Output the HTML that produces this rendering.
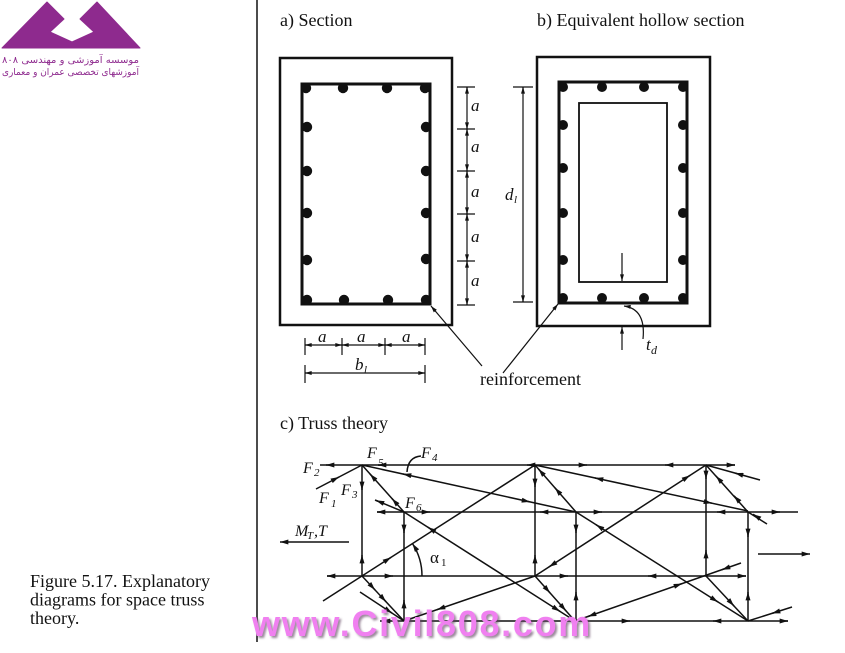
<!DOCTYPE html>
<html><head><meta charset="utf-8">
<style>
html,body{margin:0;padding:0;background:#fff;}
body{width:845px;height:653px;overflow:hidden;position:relative;}
svg{position:absolute;left:0;top:0;}
.wm{position:absolute;left:252px;top:606px;font-family:"Liberation Sans",sans-serif;font-weight:bold;font-size:36px;letter-spacing:1.7px;color:#f080f0;text-shadow:2px 2px 2px rgba(90,60,90,0.6);white-space:nowrap;line-height:36px;}
</style></head><body>
<svg width="845" height="653" viewBox="0 0 845 653" xmlns="http://www.w3.org/2000/svg">
<defs>
<marker id="ah" viewBox="0 0 10 6" refX="10" refY="3" markerWidth="9" markerHeight="5" orient="auto" markerUnits="userSpaceOnUse"><path d="M0,0L10,3L0,6z" fill="#111"/></marker>
<marker id="as" viewBox="0 0 10 6" refX="10" refY="3" markerWidth="7" markerHeight="4" orient="auto" markerUnits="userSpaceOnUse"><path d="M0,0L10,3L0,6z" fill="#111"/></marker>
</defs>

<!-- logo -->
<polygon points="2,48 47,2 64,19 50,32 72,42 94,32 80,19 97,2 140,48" fill="#8e2a8e" stroke="#8e2a8e" stroke-width="1" stroke-linejoin="round"/>
<text x="139" y="63" font-family="DejaVu Sans, sans-serif" font-size="9.5" fill="#8e2a8e" text-anchor="end" textLength="137" lengthAdjust="spacingAndGlyphs">موسسه آموزشی و مهندسی ۸۰۸</text>
<text x="139" y="75" font-family="DejaVu Sans, sans-serif" font-size="9.5" fill="#8e2a8e" text-anchor="end" textLength="137" lengthAdjust="spacingAndGlyphs">آموزشهای تخصصی عمران و معماری</text>

<!-- separator -->
<line x1="257" y1="0" x2="257" y2="642" stroke="#111" stroke-width="1.5"/>

<g font-family="Liberation Serif, serif" fill="#111">
<text x="280" y="26" font-size="18">a) Section</text>
<text x="537" y="26" font-size="18">b) Equivalent hollow section</text>
<text x="280" y="429" font-size="18">c) Truss theory</text>
<text x="480" y="385" font-size="18">reinforcement</text>
<text x="30" y="587" font-size="18">Figure 5.17. Explanatory</text>
<text x="30" y="605.5" font-size="18">diagrams for space truss</text>
<text x="30" y="624" font-size="18">theory.</text>
</g>

<!-- Section a -->
<g fill="none" stroke="#111">
<rect x="280" y="58" width="172" height="267" stroke-width="2.5"/>
<rect x="302" y="84" width="128" height="220" stroke-width="3"/>
</g>
<g fill="#111">
<circle cx="306" cy="88" r="5.2"/><circle cx="343" cy="88" r="5.2"/><circle cx="387" cy="88" r="5.2"/><circle cx="425" cy="88" r="5.2"/>
<circle cx="307" cy="300" r="5.2"/><circle cx="344" cy="300" r="5.2"/><circle cx="388" cy="300" r="5.2"/><circle cx="426" cy="300" r="5.2"/>
<circle cx="307" cy="127" r="5.2"/><circle cx="307" cy="171" r="5.2"/><circle cx="307" cy="213" r="5.2"/><circle cx="307" cy="260" r="5.2"/>
<circle cx="426" cy="127" r="5.2"/><circle cx="426" cy="171" r="5.2"/><circle cx="426" cy="213" r="5.2"/><circle cx="426" cy="259" r="5.2"/>
</g>

<!-- Section b -->
<g fill="none" stroke="#111">
<rect x="537" y="57" width="173" height="269" stroke-width="2.5"/>
<rect x="559" y="82" width="128" height="221" stroke-width="3"/>
<rect x="579" y="103" width="88" height="179" stroke-width="1.8"/>
</g>
<g fill="#111">
<circle cx="563" cy="87" r="5"/><circle cx="602" cy="87" r="5"/><circle cx="644" cy="87" r="5"/><circle cx="683" cy="87" r="5"/>
<circle cx="563" cy="298" r="5"/><circle cx="602" cy="298" r="5"/><circle cx="644" cy="298" r="5"/><circle cx="683" cy="298" r="5"/>
<circle cx="563" cy="125" r="5"/><circle cx="563" cy="168" r="5"/><circle cx="563" cy="213" r="5"/><circle cx="563" cy="260" r="5"/>
<circle cx="683" cy="125" r="5"/><circle cx="683" cy="168" r="5"/><circle cx="683" cy="213" r="5"/><circle cx="683" cy="260" r="5"/>
</g>

<!-- dimensions -->
<g stroke="#111" stroke-width="1.2" fill="none">
<line x1="467" y1="87" x2="467" y2="305"/>
<line x1="457" y1="87" x2="475" y2="87"/><line x1="457" y1="129" x2="475" y2="129"/><line x1="457" y1="171" x2="475" y2="171"/>
<line x1="457" y1="214" x2="475" y2="214"/><line x1="457" y1="261" x2="475" y2="261"/><line x1="457" y1="305" x2="475" y2="305"/>
<path d="M467,90L467,87" marker-end="url(#as)"/><path d="M467,126L467,129" marker-end="url(#as)"/>
<path d="M467,132L467,129" marker-end="url(#as)"/><path d="M467,168L467,171" marker-end="url(#as)"/>
<path d="M467,174L467,171" marker-end="url(#as)"/><path d="M467,211L467,214" marker-end="url(#as)"/>
<path d="M467,217L467,214" marker-end="url(#as)"/><path d="M467,258L467,261" marker-end="url(#as)"/>
<path d="M467,264L467,261" marker-end="url(#as)"/><path d="M467,302L467,305" marker-end="url(#as)"/>

<line x1="305" y1="345" x2="425" y2="345"/>
<line x1="305" y1="338" x2="305" y2="355"/><line x1="342" y1="338" x2="342" y2="355"/>
<line x1="385" y1="338" x2="385" y2="355"/><line x1="425" y1="338" x2="425" y2="355"/>
<path d="M308,345L305,345" marker-end="url(#as)"/><path d="M339,345L342,345" marker-end="url(#as)"/>
<path d="M345,345L342,345" marker-end="url(#as)"/><path d="M382,345L385,345" marker-end="url(#as)"/>
<path d="M388,345L385,345" marker-end="url(#as)"/><path d="M422,345L425,345" marker-end="url(#as)"/>

<line x1="305" y1="373" x2="425" y2="373"/>
<line x1="305" y1="365" x2="305" y2="383"/><line x1="425" y1="365" x2="425" y2="383"/>
<path d="M308,373L305,373" marker-end="url(#as)"/><path d="M422,373L425,373" marker-end="url(#as)"/>

<line x1="523" y1="87" x2="523" y2="302"/>
<line x1="513" y1="87" x2="533" y2="87"/><line x1="513" y1="302" x2="533" y2="302"/>
<path d="M523,90L523,87" marker-end="url(#as)"/><path d="M523,299L523,302" marker-end="url(#as)"/>

<path d="M482,366L431,306" marker-end="url(#as)"/>
<path d="M503,373L558,304" marker-end="url(#as)"/>

<path d="M622,253L622,281" marker-end="url(#as)"/>
<path d="M622,350L622,327" marker-end="url(#as)"/>
<path d="M643,339Q646,309 624,306" marker-end="url(#as)"/>
</g>

<g font-family="Liberation Serif, serif" font-style="italic" fill="#111" font-size="17">
<text x="471" y="111">a</text><text x="471" y="152">a</text><text x="471" y="197">a</text><text x="471" y="242">a</text><text x="471" y="286">a</text>
<text x="318" y="342">a</text><text x="357" y="342">a</text><text x="402" y="342">a</text>
<text x="355" y="370">b</text><text x="364" y="373" font-size="11">l</text>
<text x="505" y="200">d</text><text x="514" y="203" font-size="11">l</text>
<text x="646" y="350">t</text><text x="651" y="354" font-size="12">d</text>
</g>

<!-- Truss -->
<g stroke="#111" stroke-width="1.5" fill="none">
<path d="M320,465L735,465"/>
<path d="M377,512L798,512"/>
<path d="M327,576L746,576"/>
<path d="M380,621L788,621"/>
<path d="M362,465L362,576"/><path d="M404,512L404,621"/>
<path d="M535,465L535,576"/><path d="M576,512L576,621"/>
<path d="M706,465L706,576"/><path d="M748,512L748,621"/>

<path d="M316,489L362,465"/>
<path d="M362,465L404,512"/>
<path d="M362,465L576,512"/>
<path d="M535,465L576,512"/>
<path d="M535,465L748,511"/>
<path d="M706,465L748,512"/>
<path d="M748,512L767,524"/>
<path d="M706,465L760,480"/>
<path d="M404,512L375,500"/>
<path d="M323,601L535,465"/>
<path d="M535,576L706,465"/>
<path d="M404,512L575,621"/>
<path d="M576,512L748,621"/>
<path d="M362,576L404,621"/>
<path d="M360,592L404,621"/>
<path d="M404,621L535,576"/>
<path d="M535,576L575,621"/>
<path d="M575,621L741,563"/>
<path d="M706,576L748,621"/>
<path d="M748,621L792,607"/>

<path d="M349,542L280,542" marker-end="url(#ah)"/>
<path d="M758,554L810,554" marker-end="url(#ah)"/>
<path d="M422,576A60,60 0 0 0 412.5,543.6" marker-end="url(#ah)"/>
<path d="M421,456Q408,457 407,472"/>

<!-- arrowheads: chords -->
<path d="M329,465L326,465" marker-end="url(#ah)"/>
<path d="M381,465L378,465" marker-end="url(#ah)"/>
<path d="M530,465L527,465" marker-end="url(#ah)"/>
<path d="M584,465L587,465" marker-end="url(#ah)"/>
<path d="M668,465L665,465" marker-end="url(#ah)"/>
<path d="M732,465L735,465" marker-end="url(#ah)"/>

<path d="M380,512L377,512" marker-end="url(#ah)"/>
<path d="M427,512L430,512" marker-end="url(#ah)"/>
<path d="M543,512L540,512" marker-end="url(#ah)"/>
<path d="M599,512L602,512" marker-end="url(#ah)"/>
<path d="M720,512L717,512" marker-end="url(#ah)"/>
<path d="M777,512L780,512" marker-end="url(#ah)"/>

<path d="M330,576L327,576" marker-end="url(#ah)"/>
<path d="M390,576L393,576" marker-end="url(#ah)"/>
<path d="M565,576L568,576" marker-end="url(#ah)"/>
<path d="M651,576L648,576" marker-end="url(#ah)"/>
<path d="M743,576L746,576" marker-end="url(#ah)"/>

<path d="M385,621L382,621" marker-end="url(#ah)"/>
<path d="M627,621L630,621" marker-end="url(#ah)"/>
<path d="M716,621L713,621" marker-end="url(#ah)"/>
<path d="M785,621L788,621" marker-end="url(#ah)"/>

<!-- verticals -->
<path d="M362,487L362,490" marker-end="url(#ah)"/><path d="M362,558L362,555" marker-end="url(#ah)"/>
<path d="M404,530L404,533" marker-end="url(#ah)"/><path d="M404,603L404,600" marker-end="url(#ah)"/>
<path d="M535,484L535,487" marker-end="url(#ah)"/><path d="M535,558L535,555" marker-end="url(#ah)"/>
<path d="M576,530L576,533" marker-end="url(#ah)"/><path d="M576,595L576,592" marker-end="url(#ah)"/>
<path d="M706,476L706,479" marker-end="url(#ah)"/><path d="M706,553L706,550" marker-end="url(#ah)"/>
<path d="M748,534L748,537" marker-end="url(#ah)"/><path d="M748,595L748,592" marker-end="url(#ah)"/>

<!-- diagonals -->
<path d="M336.3,478.4L339,477" marker-end="url(#ah)"/>
<path d="M372,476.2L370,474" marker-end="url(#ah)"/>
<path d="M394,500.8L392,498.6" marker-end="url(#ah)"/>
<path d="M405.9,474.6L403,474" marker-end="url(#ah)"/>
<path d="M527.1,501.3L530,501.9" marker-end="url(#ah)"/>
<path d="M540.5,471.3L538.5,469" marker-end="url(#ah)"/>
<path d="M557,490.2L555,487.9" marker-end="url(#ah)"/>
<path d="M597.9,478.6L595,478" marker-end="url(#ah)"/>
<path d="M709.1,502.6L712,503.2" marker-end="url(#ah)"/>
<path d="M718,478.2L716,476" marker-end="url(#ah)"/>
<path d="M736,497.9L734,495.7" marker-end="url(#ah)"/>
<path d="M755.5,515.8L753,514.2" marker-end="url(#ah)"/>
<path d="M737.9,473.9L735,473.1" marker-end="url(#ah)"/>
<path d="M378.8,501.5L376,500.4" marker-end="url(#ah)"/>
<path d="M388.5,559L391,557.4" marker-end="url(#ah)"/>
<path d="M551.5,565.3L549,566.9" marker-end="url(#ah)"/>
<path d="M687.5,477L690,475.4" marker-end="url(#ah)"/>
<path d="M430.5,528.9L428,527.3" marker-end="url(#ah)"/>
<path d="M557.5,609.8L560,611.4" marker-end="url(#ah)"/>
<path d="M598.5,526.3L596,524.7" marker-end="url(#ah)"/>
<path d="M715.5,600.4L718,602" marker-end="url(#ah)"/>
<path d="M373,587.7L375,589.9" marker-end="url(#ah)"/>
<path d="M384,599.5L386,601.7" marker-end="url(#ah)"/>
<path d="M389.5,611.4L392,613.1" marker-end="url(#ah)"/>
<path d="M439.8,608.7L437,609.7" marker-end="url(#ah)"/>
<path d="M548,590.6L550,592.9" marker-end="url(#ah)"/>
<path d="M564,608.6L566,610.9" marker-end="url(#ah)"/>
<path d="M590.8,615.5L588,616.5" marker-end="url(#ah)"/>
<path d="M679.2,584.6L682,583.6" marker-end="url(#ah)"/>
<path d="M724.8,568.7L722,569.7" marker-end="url(#ah)"/>
<path d="M732,603.8L734,606" marker-end="url(#ah)"/>
<path d="M774.9,612.5L772,613.4" marker-end="url(#ah)"/>
</g>

<!-- truss labels -->
<g font-family="Liberation Serif, serif" font-style="italic" fill="#111">
<text x="303" y="473" font-size="16">F</text><text x="314" y="476" font-size="11">2</text>
<text x="367" y="458" font-size="16">F</text><text x="378" y="466" font-size="11">5</text>
<text x="421" y="458" font-size="16">F</text><text x="432" y="461" font-size="11">4</text>
<text x="319" y="503" font-size="16">F</text><text x="331" y="507" font-size="11">1</text>
<text x="341" y="495" font-size="16">F</text><text x="352" y="498" font-size="11">3</text>
<text x="405" y="508" font-size="16">F</text><text x="416" y="511" font-size="11">6</text>
<text x="295" y="536" font-size="16">M</text><text x="307" y="539" font-size="11">T</text><text x="314" y="536" font-size="16">,T</text>
</g>
<g font-family="Liberation Serif, serif" fill="#111">
<text x="430" y="563" font-size="17">α</text><text x="441" y="566" font-size="11">1</text>
</g>
</svg>
<div class="wm">www.Civil808.com</div>
</body></html>
